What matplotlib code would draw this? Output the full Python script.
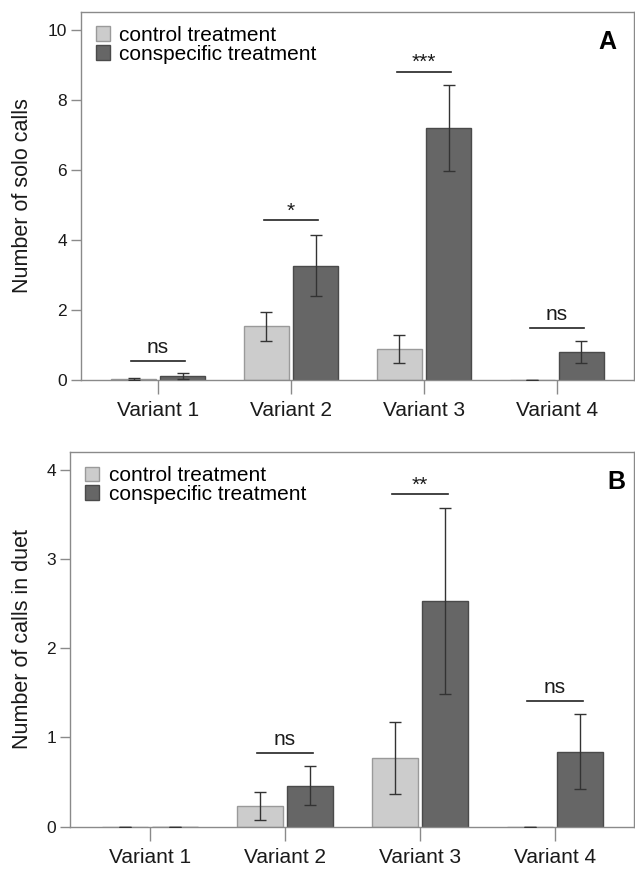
import numpy as np
import matplotlib
matplotlib.use('Agg')
from matplotlib import pyplot as plt

plt.rcParams['font.family'] = ['Liberation Sans', 'DejaVu Sans']

### data
variants = ['Variant 1', 'Variant 2', 'Variant 3', 'Variant 4']
series = ['control treatment', 'conspecific treatment']

solo_control = [0.04, 1.53, 0.88, 0.0]
solo_control_err = [0.03, 0.41, 0.40, 0.0]
solo_consp = [0.11, 3.27, 7.19, 0.80]
solo_consp_err = [0.08, 0.86, 1.23, 0.31]
solo_sig = ['ns', '*', '***', 'ns']
solo_sig_y = [0.54, 4.57, 8.81, 1.49]

duet_control = [0.0, 0.23, 0.77, 0.0]
duet_control_err = [0.0, 0.16, 0.40, 0.0]
duet_consp = [0.0, 0.46, 2.53, 0.84]
duet_consp_err = [0.0, 0.22, 1.04, 0.42]
duet_sig = [None, 'ns', '**', 'ns']
duet_sig_y = [None, 0.83, 3.73, 1.41]

light = '#cccccc'
dark = '#666666'
spine_col = '#8a8a8a'
txt_col = '#1a1a1a'

fig = plt.figure(figsize=(6.35, 8.69), dpi=100)
axA = fig.add_axes([81/635, 1 - 380/869, 553/635, 368/869])
axB = fig.add_axes([70/635, 1 - 826.7/869, 564/635, 374.7/869])


def draw_panel(ax, ctrl, ctrl_err, consp, consp_err, sig, sig_y, ylim, yticks, ylabel, letter, xlim, label_x, letter_x):
    x = np.arange(len(variants))
    w = 0.34
    off = 0.185
    ax.bar(x - off, ctrl, w, color=light, edgecolor='#9a9a9a', linewidth=1, label=series[0], zorder=2)
    ax.bar(x + off, consp, w, color=dark, edgecolor='#4a4a4a', linewidth=1, label=series[1], zorder=2)
    ek = dict(fmt='none', ecolor='#333333', elinewidth=1, capsize=4.3, capthick=1, zorder=3)
    ax.errorbar(x - off, ctrl, yerr=ctrl_err, **ek)
    ax.errorbar(x + off, consp, yerr=consp_err, **ek)

    # significance lines
    for xi, s, yy in zip(x, sig, sig_y):
        if s is None:
            continue
        ax.plot([xi - 0.205, xi + 0.205], [yy, yy], color='#222222', lw=1.2, zorder=3)
        dy = 9.5 if s == 'ns' else 6.5
        ax.annotate(s, xy=(xi, yy), xytext=(0, dy), textcoords='offset points',
                    ha='center', va='center', fontsize=15, color=txt_col)

    ax.set_xlim(*xlim)
    ax.set_ylim(*ylim)
    ax.set_yticks(yticks)
    ax.set_xticks(x)
    ax.set_xticklabels(variants, fontsize=15, color=txt_col)
    ax.tick_params(axis='y', length=7, width=1, color=spine_col, pad=3, labelsize=12.5, labelcolor=txt_col)
    ax.tick_params(axis='x', length=10, width=1, color=spine_col, pad=5)
    for sp in ax.spines.values():
        sp.set_color(spine_col)
        sp.set_linewidth(1)
    ax.set_ylabel(ylabel, fontsize=15.5, color=txt_col)
    ax.yaxis.set_label_coords(label_x, 0.5)

    ax.legend(loc='upper left', bbox_to_anchor=(0.027, 0.962), frameon=False, fontsize=15,
              handlelength=0.68, handleheight=0.72, handletextpad=0.45, labelspacing=-0.02,
              borderpad=0, borderaxespad=0)
    ax.text(letter_x, 0.952, letter, transform=ax.transAxes, ha='right', va='top',
            fontsize=18, fontweight='bold')


draw_panel(axA, solo_control, solo_control_err, solo_consp, solo_consp_err, solo_sig, solo_sig_y,
           (0, 10.51), [0, 2, 4, 6, 8, 10], 'Number of solo calls', 'A', (-0.58, 3.58), -0.086, 0.969)
draw_panel(axB, duet_control, duet_control_err, duet_consp, duet_consp_err, duet_sig, duet_sig_y,
           (0, 4.2), [0, 1, 2, 3, 4], 'Number of calls in duet', 'B', (-0.593, 3.585), -0.066, 0.984)

fig.savefig('out.png', dpi=100)
